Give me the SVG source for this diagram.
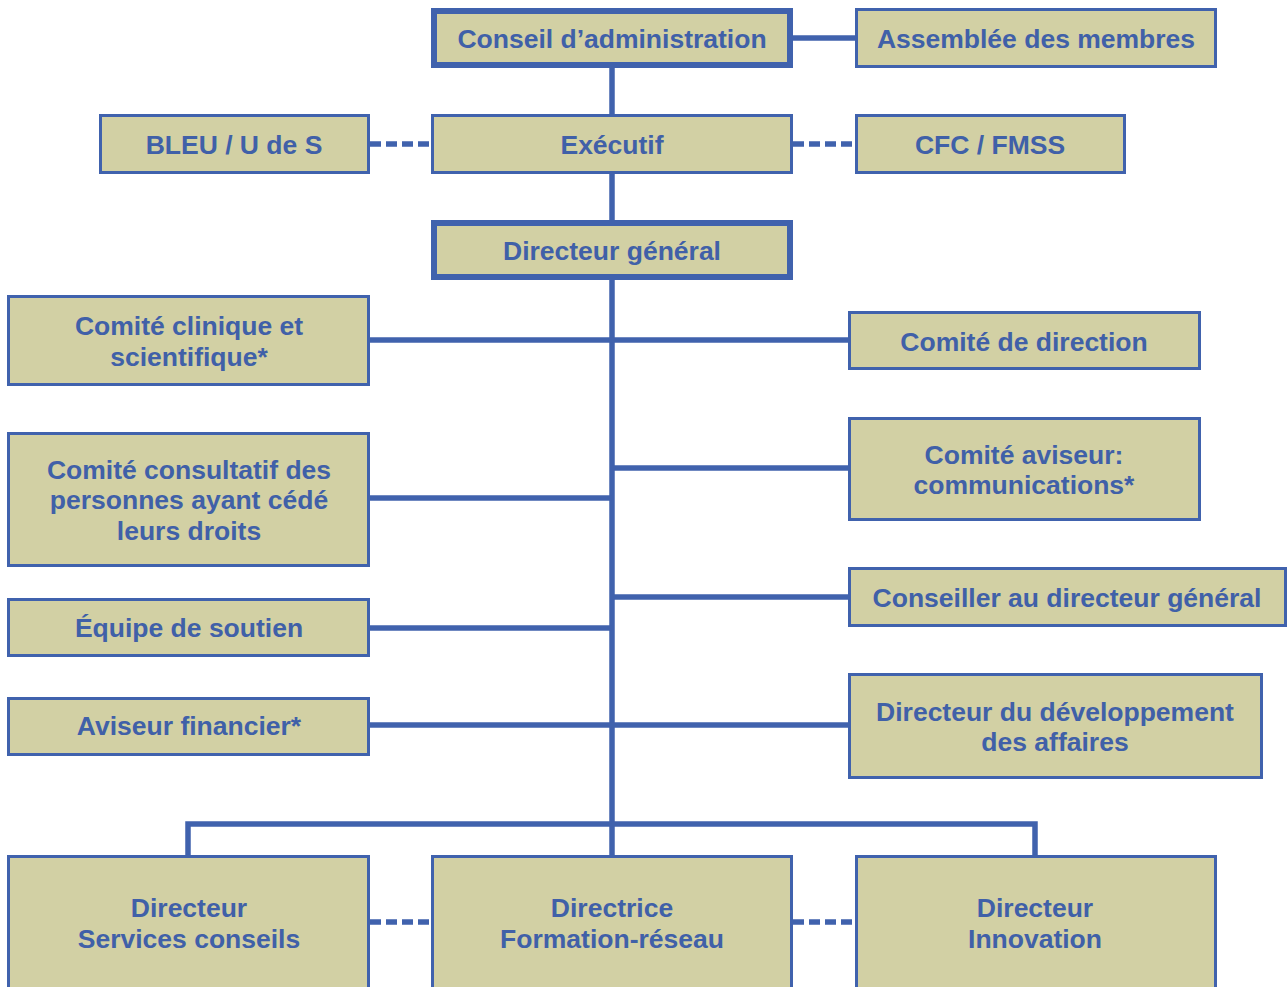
<svg xmlns="http://www.w3.org/2000/svg" width="1288" height="987" viewBox="0 0 1288 987">
<style>
.box{fill:#D2D0A4;stroke:#4062AD;stroke-width:3}
.thick{stroke-width:6}
.ln{stroke:#4062AD;stroke-width:5.5;fill:none}
.dash{stroke-dasharray:11 5}
text{font-family:"Liberation Sans",Arial,sans-serif;font-weight:bold;font-size:26.5px;fill:#4060A8;text-anchor:middle}
</style>
<rect width="1288" height="987" fill="#FFFFFF"/>
<g id="connectors">
<line class="ln" x1="793" y1="38" x2="855" y2="38"/>
<line class="ln" x1="612" y1="68" x2="612" y2="855"/>
<line class="ln dash" x1="370" y1="144" x2="431" y2="144"/>
<line class="ln dash" x1="793" y1="144" x2="855" y2="144"/>
<line class="ln" x1="370" y1="340" x2="848" y2="340"/>
<line class="ln" x1="370" y1="498" x2="612" y2="498"/>
<line class="ln" x1="612" y1="468" x2="848" y2="468"/>
<line class="ln" x1="612" y1="597" x2="848" y2="597"/>
<line class="ln" x1="370" y1="628" x2="612" y2="628"/>
<line class="ln" x1="370" y1="725" x2="848" y2="725"/>
<path class="ln" d="M188 855 V824 H1035 V855"/>
<line class="ln dash" x1="370" y1="922" x2="431" y2="922"/>
<line class="ln dash" x1="793" y1="922" x2="855" y2="922"/>
</g>
<g id="conseil"><rect class="box thick" x="434" y="11" width="356" height="54"/><text x="612" y="48">Conseil d’administration</text></g>
<g id="assemblee"><rect class="box" x="856.5" y="9.5" width="359" height="57"/><text x="1036" y="48">Assemblée des membres</text></g>
<g id="bleu"><rect class="box" x="100.5" y="115.5" width="268" height="57"/><text x="234" y="154">BLEU / U de S</text></g>
<g id="executif"><rect class="box" x="432.5" y="115.5" width="359" height="57"/><text x="612" y="154">Exécutif</text></g>
<g id="cfc"><rect class="box" x="856.5" y="115.5" width="268" height="57"/><text x="990" y="154">CFC / FMSS</text></g>
<g id="dg"><rect class="box thick" x="434" y="223" width="356" height="54"/><text x="612" y="260">Directeur général</text></g>
<g id="clinique"><rect class="box" x="8.5" y="296.5" width="360" height="88"/><text x="189" y="335">Comité clinique et</text><text x="189" y="366">scientifique*</text></g>
<g id="direction"><rect class="box" x="849.5" y="312.5" width="350" height="56"/><text x="1024" y="351">Comité de direction</text></g>
<g id="consultatif"><rect class="box" x="8.5" y="433.5" width="360" height="132"/><text x="189" y="479">Comité consultatif des</text><text x="189" y="509">personnes ayant cédé</text><text x="189" y="540">leurs droits</text></g>
<g id="aviseur"><rect class="box" x="849.5" y="418.5" width="350" height="101"/><text x="1024" y="464">Comité aviseur:</text><text x="1024" y="494">communications*</text></g>
<g id="conseiller"><rect class="box" x="849.5" y="568.5" width="436" height="57"/><text x="1067" y="607">Conseiller au directeur général</text></g>
<g id="equipe"><rect class="box" x="8.5" y="599.5" width="360" height="56"/><text x="189" y="637">Équipe de soutien</text></g>
<g id="financier"><rect class="box" x="8.5" y="698.5" width="360" height="56"/><text x="189" y="735">Aviseur financier*</text></g>
<g id="developpement"><rect class="box" x="849.5" y="674.5" width="412" height="103"/><text x="1055" y="721">Directeur du développement</text><text x="1055" y="751">des affaires</text></g>
<g id="services"><rect class="box" x="8.5" y="856.5" width="360" height="150"/><text x="189" y="917">Directeur</text><text x="189" y="948">Services conseils</text></g>
<g id="formation"><rect class="box" x="432.5" y="856.5" width="359" height="150"/><text x="612" y="917">Directrice</text><text x="612" y="948">Formation-réseau</text></g>
<g id="innovation"><rect class="box" x="856.5" y="856.5" width="359" height="150"/><text x="1035" y="917">Directeur</text><text x="1035" y="948">Innovation</text></g>
</svg>
